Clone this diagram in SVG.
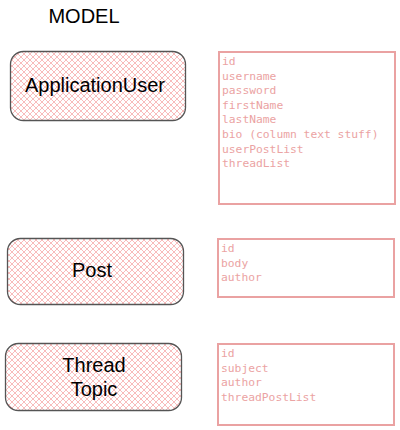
<svg xmlns="http://www.w3.org/2000/svg" width="400" height="430" viewBox="0 0 400 430">
<defs>
<pattern id="hatch" patternUnits="userSpaceOnUse" width="6" height="6">
<path d="M0,0 L6,6 M-1,5 L1,7 M5,-1 L7,1 M0,6 L6,0 M-1,1 L1,-1 M5,7 L7,5" stroke="#f06a6a" stroke-width="0.6" stroke-opacity="0.75"/>
</pattern>
<style>
.ent{fill:url(#hatch);stroke:#555;stroke-width:1.3}
.lbl{font-family:"Liberation Sans",Arial,sans-serif;font-size:20px;fill:#000;text-anchor:middle}
.attr{fill:#fff;stroke:#eaa2a2;stroke-width:2}
.f{font-family:"DejaVu Sans Mono","Liberation Mono",monospace;font-size:11.3px;fill:#eba3a3}
</style>
</defs>
<text class="lbl" x="84" y="23">MODEL</text>
<g id="ApplicationUser">
<rect class="ent" x="10.5" y="51.5" width="175" height="69" rx="13"/>
<text class="lbl" x="95" y="92">ApplicationUser</text>
</g>
<g id="ApplicationUserFields">
<rect class="attr" x="219" y="52" width="176" height="152"/>
<text class="f" x="222" y="65">id</text>
<text class="f" x="222" y="79.6">username</text>
<text class="f" x="222" y="94.2">password</text>
<text class="f" x="222" y="108.8">firstName</text>
<text class="f" x="222" y="123.4">lastName</text>
<text class="f" x="222" y="138">bio (column text stuff)</text>
<text class="f" x="222" y="152.6">userPostList</text>
<text class="f" x="222" y="167.2">threadList</text>
</g>
<g id="Post">
<rect class="ent" x="7.5" y="238.5" width="176" height="66" rx="13"/>
<text class="lbl" x="92" y="277">Post</text>
</g>
<g id="PostFields">
<rect class="attr" x="218" y="239" width="176" height="58"/>
<text class="f" x="221" y="252">id</text>
<text class="f" x="221" y="266.6">body</text>
<text class="f" x="221" y="281.2">author</text>
</g>
<g id="ThreadTopic">
<rect class="ent" x="5.5" y="343.5" width="176" height="67" rx="13"/>
<text class="lbl" x="94" y="372">Thread</text>
<text class="lbl" x="94" y="396">Topic</text>
</g>
<g id="ThreadTopicFields">
<rect class="attr" x="218" y="344" width="176" height="81"/>
<text class="f" x="221" y="357">id</text>
<text class="f" x="221" y="371.6">subject</text>
<text class="f" x="221" y="386.2">author</text>
<text class="f" x="221" y="400.8">threadPostList</text>
</g>
<g id="connectors"></g>
</svg>
